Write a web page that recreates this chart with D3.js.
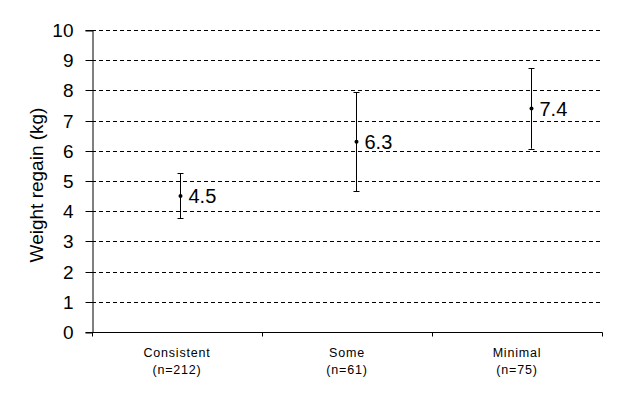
<!DOCTYPE html>
<html><head><meta charset="utf-8">
<script src="https://cdn.jsdelivr.net/npm/d3@7"></script>
<style>body{margin:0;background:#fff;}svg{display:block;font-family:"Liberation Sans",Arial,sans-serif;}</style>
</head><body><svg id="c" width="629" height="398"></svg>
<script>
const categories = ["Consistent", "Some", "Minimal"];
const counts = ["(n=212)", "(n=61)", "(n=75)"];
const means = [4.5, 6.3, 7.4];
const lower = [3.76, 4.66, 6.07];
const upper = [5.25, 7.94, 8.73];
const yTicks = [0,1,2,3,4,5,6,7,8,9,10];

(function(){
const svg = d3.select("#c");
const mLeft = 92, mRight = 602, mTop = 30, mBottom = 332;
const y = d3.scaleLinear().domain([0,10]).range([mBottom, mTop]);
const xBand = d3.scaleBand().domain(categories).range([mLeft, mRight]);
const xPt = d3.scalePoint().domain(categories).range([180, 531]);

// gridlines
svg.append("g").selectAll("line").data(yTicks.filter(d=>d>0)).join("line")
  .attr("x1", mLeft).attr("x2", mRight)
  .attr("y1", d=>Math.round(y(d))+0.5).attr("y2", d=>Math.round(y(d))+0.5)
  .attr("stroke","#000").attr("stroke-width",1).attr("stroke-dasharray","4,3");

// y axis
const ya = svg.append("g").attr("transform",`translate(${mLeft+0.5},0.5)`)
  .call(d3.axisLeft(y).tickValues(yTicks).tickSize(7).tickPadding(12).tickFormat(d3.format("d")));
ya.select(".domain").attr("stroke","#000");
ya.selectAll(".tick line").attr("stroke","#000");
ya.selectAll(".tick text").attr("font-size",19).attr("fill","#000")
  .attr("font-family","'Liberation Sans',Arial,sans-serif").attr("dy","0.36em");
ya.selectAll(".tick").attr("transform", d=>`translate(0,${Math.round(y(d))})`);

// x axis
const xa = svg.append("g").attr("transform",`translate(0.5,${mBottom+0.5})`);
xa.append("line").attr("x1",mLeft).attr("x2",mRight).attr("stroke","#000");
const tickXs = categories.map(c=>xBand(c)).concat([mRight]);
xa.selectAll("line.t").data(tickXs).join("line").attr("class","t")
  .attr("x1",d=>Math.round(d)).attr("x2",d=>Math.round(d)).attr("y1",0).attr("y2",4).attr("stroke","#000");
const cl = svg.append("g");
categories.forEach((c,i)=>{
  const cx = xBand(c)+xBand.bandwidth()/2;
  cl.append("text").attr("x",cx).attr("y",357).attr("text-anchor","middle")
    .attr("font-size",12.5).attr("letter-spacing","0.8px").attr("fill","#000").text(c);
  cl.append("text").attr("x",cx).attr("y",374).attr("text-anchor","middle")
    .attr("font-size",12.5).attr("letter-spacing","0.8px").attr("fill","#000").text(counts[i]);
});

// y title
svg.append("text").attr("transform",`translate(43,${185}) rotate(-90)`)
  .attr("text-anchor","middle").attr("font-size",19).attr("fill","#000").text("Weight regain (kg)");

// error bars
const eb = svg.append("g");
categories.forEach((c,i)=>{
  const x = Math.round(xPt(c))+0.5;
  eb.append("line").attr("x1",x).attr("x2",x).attr("y1",y(lower[i])).attr("y2",y(upper[i])).attr("stroke","#000");
  [lower[i],upper[i]].forEach(v=>{
    eb.append("line").attr("x1",x-3).attr("x2",x+3).attr("y1",Math.round(y(v))+0.5).attr("y2",Math.round(y(v))+0.5).attr("stroke","#000");
  });
  eb.append("circle").attr("cx",x).attr("cy",y(means[i])).attr("r",2).attr("fill","#000");
  eb.append("text").attr("x",x+8).attr("y",y(means[i])).attr("dy","0.36em")
    .attr("font-size",20).attr("fill","#000").text(d3.format(".1f")(means[i]));
});
})();
</script></body></html>
